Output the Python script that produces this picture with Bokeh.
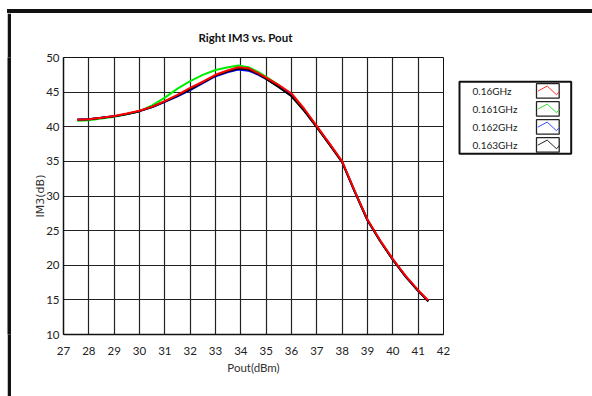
from bokeh.plotting import figure
from bokeh.models import Range1d, FixedTicker, Spacer, Div
from bokeh.layouts import row, column
from bokeh.embed import file_html
from bokeh.resources import INLINE
from bokeh.core.properties import value

# ---- data ----
pout = [27.55, 28, 28.5, 29, 29.5, 30, 30.5, 31, 31.5, 32, 32.5, 33, 33.5, 33.9, 34.3,
        34.7, 35, 35.5, 36, 36.5, 37, 37.5, 38, 38.5, 39, 39.5, 40, 40.5, 41, 41.4]
im3_160 = [41.0, 41.1, 41.3, 41.55, 41.9, 42.3, 42.9, 43.7, 44.6, 45.6, 46.5, 47.5, 48.15, 48.6, 48.45,
           47.7, 47.1, 46.0, 44.8, 42.6, 40.1, 37.6, 35.0, 30.7, 26.6, 23.6, 20.9, 18.5, 16.4, 14.9]
im3_161 = [40.85, 40.95, 41.2, 41.45, 41.8, 42.25, 43.1, 44.2, 45.5, 46.6, 47.5, 48.2, 48.6, 48.85, 48.6,
           47.9, 47.2, 46.0, 44.6, 42.5, 40.0, 37.5, 34.9, 30.6, 26.5, 23.5, 20.8, 18.4, 16.3, 14.8]
im3_162 = [41.05, 41.1, 41.3, 41.5, 41.85, 42.25, 42.85, 43.6, 44.4, 45.3, 46.3, 47.3, 47.9, 48.25, 48.1,
           47.5, 46.9, 45.8, 44.5, 42.4, 40.0, 37.5, 34.9, 30.6, 26.5, 23.5, 20.8, 18.4, 16.3, 14.8]
im3_163 = [41.0, 41.1, 41.3, 41.5, 41.85, 42.25, 42.85, 43.65, 44.5, 45.4, 46.4, 47.4, 48.0, 48.4, 48.25,
           47.6, 46.9, 45.7, 44.4, 42.3, 39.9, 37.4, 34.9, 30.6, 26.5, 23.5, 20.8, 18.4, 16.3, 14.8]
series_names = ["0.16GHz", "0.161GHz", "0.162GHz", "0.163GHz"]
series_colors = ["#ff0000", "#00ee00", "#0000ff", "#000000"]
legend_colors = ["#ff3030", "#30e030", "#3050ff", "#222222"]
x_ticks = list(range(27, 43))
y_ticks = list(range(10, 51, 5))


def bar(w, h):
    b = figure(width=w, height=h, output_backend="svg", toolbar_location=None, title=None,
               x_axis_type=None, y_axis_type=None, min_border=0,
               min_border_left=0, min_border_right=0, min_border_top=0, min_border_bottom=0)
    b.grid.visible = False
    b.outline_line_color = None
    b.background_fill_color = "#111111"
    b.border_fill_color = "#111111"
    return b


# ---- main chart ----
p = figure(width=440, height=383, output_backend="svg", toolbar_location=None,
           x_range=Range1d(27, 42), y_range=Range1d(10, 50),
           min_border_left=52, min_border_right=8, min_border_top=44, min_border_bottom=62,
           x_axis_label="Pout(dBm)", y_axis_label="IM3(dB)")
p.background_fill_color = "white"
p.border_fill_color = "white"
p.outline_line_color = "#111111"
p.outline_line_width = 1

p.title.text = "Right IM3 vs. Pout"
p.title.align = "left"
p.title.offset = 135
p.title.text_font = "Lato"
p.title.text_font_style = "bold"
p.title.text_font_size = "11.5px"
p.title.text_color = "#111111"
p.title.standoff = 28

for ax, ticks in ((p.xaxis[0], x_ticks), (p.yaxis[0], y_ticks)):
    ax.ticker = FixedTicker(ticks=ticks)
    ax.major_tick_in = 0
    ax.major_tick_out = 0
    ax.minor_tick_in = 0
    ax.minor_tick_out = 0
    ax.axis_line_color = "#111111"
    ax.axis_line_width = 1.5
    ax.major_label_text_font = "Lato"
    ax.major_label_text_font_size = "11.5px"
    ax.major_label_text_color = "#222222"
    ax.axis_label_text_color = "#333333"
    ax.axis_label_text_font_style = "normal"
p.xaxis.major_label_standoff = 12
p.yaxis.major_label_standoff = 4
p.xaxis.axis_label_text_font = "Lato"
p.xaxis.axis_label_text_font_size = "11.5px"
p.xaxis.axis_label_standoff = 3
p.yaxis.axis_label_text_font = "DejaVu Sans"
p.yaxis.axis_label_text_font_size = "11px"
p.yaxis.axis_label_standoff = -4

p.xgrid.ticker = FixedTicker(ticks=x_ticks)
p.ygrid.ticker = FixedTicker(ticks=y_ticks)
for g in (p.xgrid[0], p.ygrid[0]):
    g.grid_line_color = "#222222"
    g.grid_line_width = 1.2
    g.grid_line_alpha = 1.0

# draw order: green, blue, black, red on top
order = [1, 2, 3, 0]
all_y = [im3_160, im3_161, im3_162, im3_163]
for i in order:
    p.line(pout, all_y[i], line_color=series_colors[i], line_width=2)

# ---- legend panel (pixel-like coordinates, y downward) ----
lg = figure(width=141, height=383, output_backend="svg", toolbar_location=None, title=None,
            x_range=Range1d(0, 141), y_range=Range1d(383, 0),
            x_axis_type=None, y_axis_type=None,
            min_border=0, min_border_left=0, min_border_right=0, min_border_top=0, min_border_bottom=0)
lg.grid.visible = False
lg.outline_line_color = None
lg.background_fill_color = "white"
lg.border_fill_color = "white"

lg.quad(left=[8], right=[119.7], top=[33.7], bottom=[133], fill_color=None,
        line_color="#111111", line_width=2)
row_y0 = 46.2
row_dy = 24.9
bx0, bw, bh = 85, 22.7, 20
zx = [1.3, 10.7, 20, 22.7]
zy = [10.3, 3.3, 15.3, 11]
for i, (name, col) in enumerate(zip(series_names, legend_colors)):
    cy = row_y0 + row_dy * i
    top = cy - bh / 2
    lg.quad(left=[bx0], right=[bx0 + bw], top=[top], bottom=[top + bh], fill_color="white",
            line_color="#222222", line_width=1.3)
    lg.line([bx0 + v for v in zx], [top + v for v in zy], line_color=col, line_width=1)
    lg.text(x=[21], y=[cy], text=[name], text_font=value("Lato"), text_font_size="10px",
            text_color="#222222", text_baseline="middle", text_align="left")

topbar = Div(text="", width=585, height=4, margin=0,
             styles={"background-color": "#111111", "height": "4px", "width": "585px"})
leftbar = bar(4, 383)

layout = column(
    Spacer(width=592, height=9),
    row(Spacer(width=7, height=4), topbar, spacing=0),
    row(Spacer(width=7, height=383), leftbar, p, lg, spacing=0),
    spacing=0,
)

open("out.html", "w").write(file_html(layout, INLINE))
